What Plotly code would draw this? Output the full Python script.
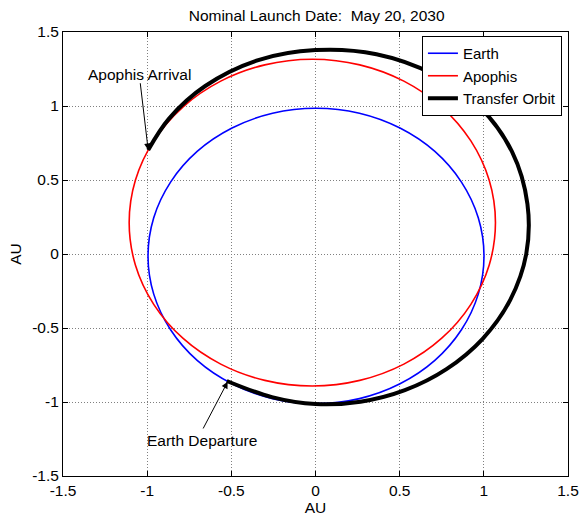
import plotly.graph_objects as go

# Orbit traces in the ecliptic plane (AU), listed counter-clockwise
earth_x = [1.001, 0.967, 0.867, 0.709, 0.502, 0.261, 0.003, -0.255, -0.496, -0.703,
           -0.861, -0.961, -0.995, -0.961, -0.861, -0.703, -0.496, -0.255, 0.003, 0.261,
           0.502, 0.709, 0.867, 0.967, 1.001]
earth_y = [-0.013, 0.245, 0.486, 0.693, 0.851, 0.951, 0.985, 0.951, 0.851, 0.693,
           0.486, 0.245, -0.013, -0.271, -0.512, -0.719, -0.877, -0.977, -1.011, -0.977,
           -0.877, -0.719, -0.512, -0.271, -0.013]

apophis_x = [1.069, 1.032, 0.923, 0.750, 0.525, 0.263, -0.019, -0.301, -0.563, -0.788,
             -0.961, -1.070, -1.107, -1.070, -0.961, -0.788, -0.563, -0.301, -0.019, 0.263,
             0.525, 0.750, 0.923, 1.032, 1.069]
apophis_y = [0.212, 0.498, 0.764, 0.993, 1.168, 1.278, 1.316, 1.278, 1.168, 0.993,
             0.764, 0.498, 0.212, -0.074, -0.340, -0.569, -0.744, -0.854, -0.892, -0.854,
             -0.744, -0.569, -0.340, -0.074, 0.212]

# Transfer arc: Earth departure -> Apophis arrival
transfer_x = [-0.527, -0.259, 0.000, 0.267, 0.531, 0.778, 0.993, 1.157, 1.252, 1.259,
              1.168, 0.970, 0.700, 0.362, 0.000, -0.340, -0.655, -0.870, -0.994]
transfer_y = [-0.858, -0.967, -1.014, -0.998, -0.920, -0.778, -0.573, -0.310, 0.000, 0.338,
              0.690, 1.000, 1.215, 1.350, 1.378, 1.310, 1.135, 0.915, 0.703]

tick_vals = [-1.5, -1, -0.5, 0, 0.5, 1, 1.5]
tick_text = ["-1.5", "-1", "-0.5", "0", "0.5", "1", "1.5"]

# Event markers: arrow tip, arrow tail, label centre
arrival_tip = (-0.994, 0.703)
arrival_tail = (-1.042, 1.164)
arrival_label = (-1.048, 1.216)
departure_tip = (-0.522, -0.864)
departure_tail = (-0.672, -1.189)
departure_label = (-0.675, -1.257)

FONT = "Liberation Sans, Arial, Helvetica, sans-serif"
FS = 15.5

fig = go.Figure()
fig.add_trace(go.Scatter(x=earth_x, y=earth_y, mode="lines", name="Earth",
                         line=dict(color="#0000ff", width=1.6, shape="spline", smoothing=1.0)))
fig.add_trace(go.Scatter(x=apophis_x, y=apophis_y, mode="lines", name="Apophis",
                         line=dict(color="#ff0000", width=1.6, shape="spline", smoothing=1.0)))
fig.add_trace(go.Scatter(x=transfer_x, y=transfer_y, mode="lines", name="Transfer Orbit",
                         line=dict(color="#000000", width=4, shape="spline", smoothing=1.0)))

axis_common = dict(
    range=[-1.5, 1.5], tickvals=tick_vals, ticktext=tick_text, automargin=False,
    showgrid=True, gridcolor="#808080", griddash="1px,2px", gridwidth=1,
    zeroline=False, showline=True, linecolor="#000000", linewidth=1,
    mirror="ticks", ticks="inside", ticklen=5, tickcolor="#000000",
    tickfont=dict(family=FONT, size=FS, color="#000000"),
)

fig.update_xaxes(**axis_common, title=dict(text="AU", font=dict(family=FONT, size=FS, color="#000000"), standoff=2))
fig.update_yaxes(**axis_common, title=dict(text="AU", font=dict(family=FONT, size=FS, color="#000000"), standoff=6))

annotations = [
    dict(x=arrival_tip[0], y=arrival_tip[1], ax=arrival_tail[0], ay=arrival_tail[1],
         xref="x", yref="y", axref="x", ayref="y", text="", showarrow=True,
         arrowhead=2, arrowsize=1.3, arrowwidth=1, arrowcolor="#000000"),
    dict(x=arrival_label[0], y=arrival_label[1], xref="x", yref="y", text="Apophis Arrival",
         showarrow=False, font=dict(family=FONT, size=FS, color="#000000")),
    dict(x=departure_tip[0], y=departure_tip[1], ax=departure_tail[0], ay=departure_tail[1],
         xref="x", yref="y", axref="x", ayref="y", text="", showarrow=True,
         arrowhead=2, arrowsize=1.3, arrowwidth=1, arrowcolor="#000000"),
    dict(x=departure_label[0], y=departure_label[1], xref="x", yref="y", text="Earth Departure",
         showarrow=False, font=dict(family=FONT, size=FS, color="#000000")),
]

fig.update_layout(
    width=581, height=518,
    margin=dict(l=63, r=13, t=32, b=42),
    paper_bgcolor="#ffffff", plot_bgcolor="#ffffff",
    title=dict(text="Nominal Launch Date:  May 20, 2030", x=0.545, xanchor="center",
               y=1 - 16 / 518, yanchor="middle",
               font=dict(family=FONT, size=FS, color="#000000")),
    showlegend=True,
    legend=dict(x=0.988, y=0.991, xanchor="right", yanchor="top",
                bgcolor="#ffffff", bordercolor="#000000", borderwidth=1,
                font=dict(family=FONT, size=15, color="#000000"),
                tracegroupgap=0, itemwidth=30),
    annotations=annotations,
)

fig.write_html("out.html")
